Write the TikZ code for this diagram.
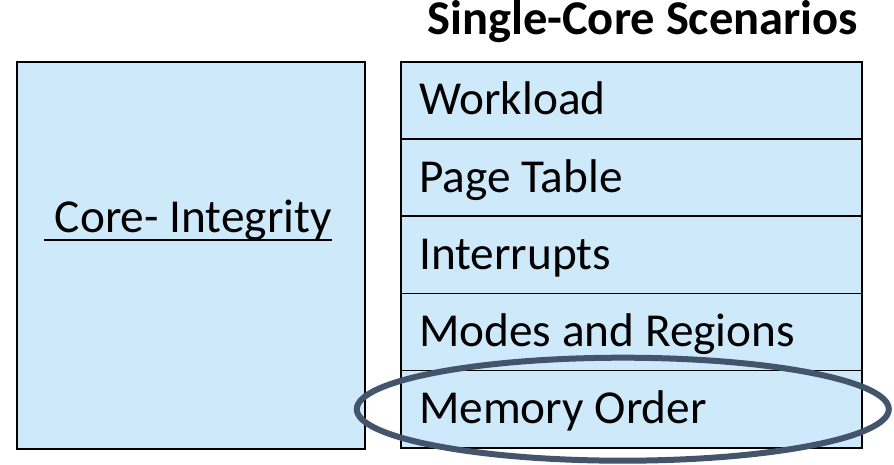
\documentclass[tikz,border=0pt]{standalone}
\usepackage{fontspec}
\setmainfont{Carlito}
\definecolor{cellfill}{RGB}{205,233,250}
\definecolor{ringcol}{RGB}{68,84,106}
\begin{document}
\begin{tikzpicture}[x=1pt,y=-1pt,
  cell/.style={draw=black, line width=1.6pt, fill=cellfill, inner sep=0pt},
  celltext/.style={anchor=base west, inner sep=0pt, font=\fontsize{47.3}{56}\selectfont},
  heading/.style={anchor=base west, inner sep=0pt, font=\fontsize{48.5}{58}\selectfont\bfseries},
  ring/.style={draw=ringcol, line width=6pt}]
\useasboundingbox (0,0) rectangle (894,465);

% left block
\node[cell, line width=2pt, minimum width=348pt, minimum height=387pt] (core) at (191,255.5) {};
\node[celltext] (coretext) at (44,233) {\ Core- Integrity};
\draw[line width=2pt] ([yshift=-7pt]coretext.base west) -- ([yshift=-7pt]coretext.base east);

% scenario stack
\node[heading] (title) at (427,35) {Single-Core Scenarios};
\foreach \i/\name/\txt in {0/work/Workload, 1/page/Page Table, 2/intr/Interrupts, 3/modes/Modes and Regions, 4/mem/Memory Order}{
  \node[cell, minimum width=461pt, minimum height=77.2pt, anchor=north west] (\name) at (400,61+77.2*\i) {};
  \node[celltext] (\name text) at (419,115+77.2*\i) {\txt};
}

% highlight ring around the last row
\draw[ring] (mem.center) ++(-8.5,0) ellipse [x radius=266, y radius=51.5];
\end{tikzpicture}
\end{document}
